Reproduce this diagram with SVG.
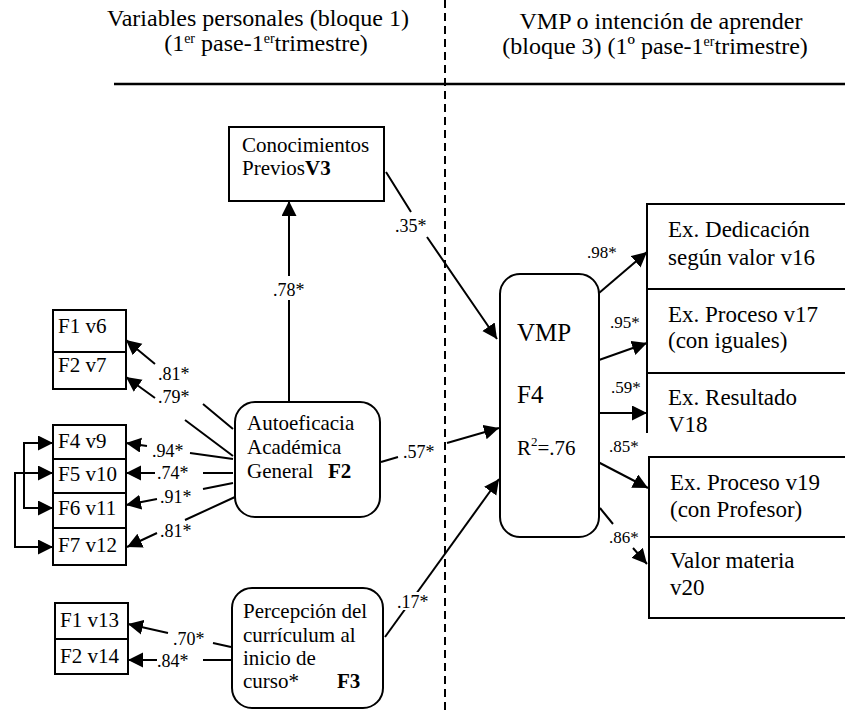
<svg xmlns="http://www.w3.org/2000/svg" width="845" height="712" viewBox="0 0 845 712">
<defs>
<marker id="ah" markerUnits="userSpaceOnUse" markerWidth="16" markerHeight="16" refX="15" refY="7.5" orient="auto-start-reverse" viewBox="0 0 16 16">
<path d="M0,0 L15,7.5 L0,15 z" fill="#000"/>
</marker>
<style>
text{font-family:"Liberation Serif","Times New Roman",serif;fill:#000}
.hd{font-size:24px}
.sup{font-size:14px}
.nd{font-size:21px}
.rt{font-size:23px}
.big{font-size:25px}
.lbl{font-size:18px}
.lblr{font-size:17px}
.b{font-weight:bold}
.box{fill:#fff;stroke:#000;stroke-width:2}
.edge{fill:none;stroke:#000;stroke-width:2}
.arr{marker-end:url(#ah)}
.both{marker-start:url(#ah);marker-end:url(#ah)}
</style>
</defs>
<rect width="845" height="712" fill="#fff"/>

<g id="header">
<text class="hd" x="258" y="26" text-anchor="middle">Variables personales (bloque 1)</text>
<text class="hd" x="266" y="51" text-anchor="middle">(1<tspan class="sup" dy="-8">er</tspan><tspan dy="8"> pase-1</tspan><tspan class="sup" dy="-8">er</tspan><tspan dy="8">trimestre)</tspan></text>
<text class="hd" x="661" y="29" text-anchor="middle">VMP o intención de aprender</text>
<text class="hd" x="655" y="54" text-anchor="middle">(bloque 3) (1º pase-1<tspan class="sup" dy="-8">er</tspan><tspan dy="8">trimestre)</tspan></text>
<line x1="114" y1="84" x2="845" y2="84" stroke="#000" stroke-width="2.5"/>
<line x1="445" y1="0" x2="445" y2="712" stroke="#000" stroke-width="2" stroke-dasharray="8 5"/>
</g>

<g id="connectors">
<path class="edge arr" d="M289,402 L289,300 M289,276 L289,201"/>
<path class="edge arr" d="M386,172 L411,212 M427,237 L497,339"/>
<path class="edge arr" d="M381,462 L398,457 M447,443 L499,428"/>
<path class="edge arr" d="M385,637 L499,479"/>
<path class="edge arr" d="M233,429 L203,404 M155,364 L126,340"/>
<path class="edge arr" d="M233,456 L185,420 M155,398 L126,377"/>
<path class="edge arr" d="M233,459 L190,453 M147,446 L126,443"/>
<path class="edge arr" d="M233,473 L203,473 M155,473 L126,473"/>
<path class="edge arr" d="M233,483 L203,489 M157,499 L126,505"/>
<path class="edge arr" d="M235,497 L185,520 M157,533 L127,547"/>
<path class="edge arr" d="M231,647 L213,643 M168,633 L128,624"/>
<path class="edge arr" d="M231,660 L203,660 M157,660 L128,660"/>
<path class="edge both" d="M53,443 L24,443 L24,508 L53,508"/>
<path class="edge both" d="M53,473 L15,473 L15,547 L53,547"/>
<path class="edge arr" d="M599,293 L647,252"/>
<path class="edge arr" d="M599,360 L647,343"/>
<path class="edge arr" d="M599,413 L647,413"/>
<path class="edge arr" d="M598,462 L648,488"/>
<path class="edge arr" d="M600,508 L613,524 M633,548 L647,564"/>
<text class="lbl" x="273" y="296">.78*</text>
<text class="lbl" x="395" y="232">.35*</text>
<text class="lbl" x="403" y="458">.57*</text>
<rect x="398" y="592" width="30" height="18" fill="#fff"/>
<text class="lbl" x="397" y="608">.17*</text>
<text class="lbl" x="158" y="380">.81*</text>
<text class="lbl" x="158" y="403">.79*</text>
<text class="lbl" x="152" y="457">.94*</text>
<text class="lbl" x="157" y="479">.74*</text>
<text class="lbl" x="160" y="503">.91*</text>
<text class="lbl" x="160" y="537">.81*</text>
<text class="lbl" x="173" y="645">.70*</text>
<text class="lbl" x="157" y="667">.84*</text>
<text class="lblr" x="587" y="258">.98*</text>
<text class="lblr" x="610" y="328">.95*</text>
<text class="lblr" x="611" y="393">.59*</text>
<text class="lblr" x="609" y="452">.85*</text>
<text class="lblr" x="609" y="543">.86*</text>
</g>

<g id="n-conocimientos">
<rect class="box" x="229" y="127" width="155" height="74"/>
<text class="nd" x="242" y="152">Conocimientos</text>
<text class="nd" x="242" y="175">Previos<tspan class="b">V3</tspan></text>
</g>

<g id="n-autoeficacia">
<rect class="box" x="235" y="402" width="145" height="115" rx="20"/>
<text class="nd" x="247" y="430">Autoeficacia</text>
<text class="nd" x="247" y="454">Académica</text>
<text class="nd" x="247" y="478">General</text>
<text class="nd b" x="328" y="478">F2</text>
</g>

<g id="n-percepcion">
<rect class="box" x="232" y="588" width="151" height="120" rx="20"/>
<text class="nd" x="243" y="618">Percepción del</text>
<text class="nd" x="243" y="642">currículum al</text>
<text class="nd" x="243" y="665">inicio de</text>
<text class="nd" x="243" y="688">curso*</text>
<text class="nd b" x="337" y="688">F3</text>
</g>

<g id="n-vmp">
<rect class="box" x="500" y="274" width="99" height="263" rx="20"/>
<text class="big" x="517" y="341">VMP</text>
<text class="big" x="517" y="403">F4</text>
<text class="nd" x="517" y="455">R<tspan font-size="13" dy="-9">2</tspan><tspan dy="9">=.76</tspan></text>
</g>

<g id="n-f1v6">
<rect class="box" x="53" y="310" width="73" height="42"/>
<text class="nd" x="58" y="333">F1 v6</text>
</g>
<g id="n-f2v7">
<rect class="box" x="53" y="352" width="73" height="37"/>
<text class="nd" x="58" y="372">F2 v7</text>
</g>
<g id="n-f4v9">
<rect class="box" x="53" y="425" width="73" height="34"/>
<text class="nd" x="58" y="448">F4 v9</text>
</g>
<g id="n-f5v10">
<rect class="box" x="53" y="459" width="73" height="34"/>
<text class="nd" x="58" y="481">F5 v10</text>
</g>
<g id="n-f6v11">
<rect class="box" x="53" y="493" width="73" height="35"/>
<text class="nd" x="58" y="515">F6 v11</text>
</g>
<g id="n-f7v12">
<rect class="box" x="53" y="528" width="73" height="37"/>
<text class="nd" x="58" y="552">F7 v12</text>
</g>
<g id="n-f1v13">
<rect class="box" x="55" y="603" width="73" height="36"/>
<text class="nd" x="60" y="627">F1 v13</text>
</g>
<g id="n-f2v14">
<rect class="box" x="55" y="639" width="73" height="35"/>
<text class="nd" x="60" y="663">F2 v14</text>
</g>

<g id="n-v16">
<rect class="box" x="647" y="204" width="220" height="85"/>
<text class="rt" x="668" y="237">Ex. Dedicación</text>
<text class="rt" x="668" y="265">según valor v16</text>
</g>
<g id="n-v17">
<rect class="box" x="647" y="289" width="220" height="84"/>
<text class="rt" x="668" y="322">Ex. Proceso v17</text>
<text class="rt" x="668" y="348">(con iguales)</text>
</g>
<g id="n-v18">
<path d="M867,373 L647,373 L647,433" fill="none" stroke="#000" stroke-width="2"/>
<text class="rt" x="668" y="405">Ex. Resultado</text>
<text class="rt" x="668" y="432">V18</text>
</g>
<g id="n-v19">
<rect class="box" x="649" y="457" width="220" height="80"/>
<text class="rt" x="670" y="490">Ex. Proceso v19</text>
<text class="rt" x="670" y="517">(con Profesor)</text>
</g>
<g id="n-v20">
<rect class="box" x="649" y="537" width="220" height="81"/>
<text class="rt" x="670" y="568">Valor materia</text>
<text class="rt" x="670" y="595">v20</text>
</g>
</svg>
